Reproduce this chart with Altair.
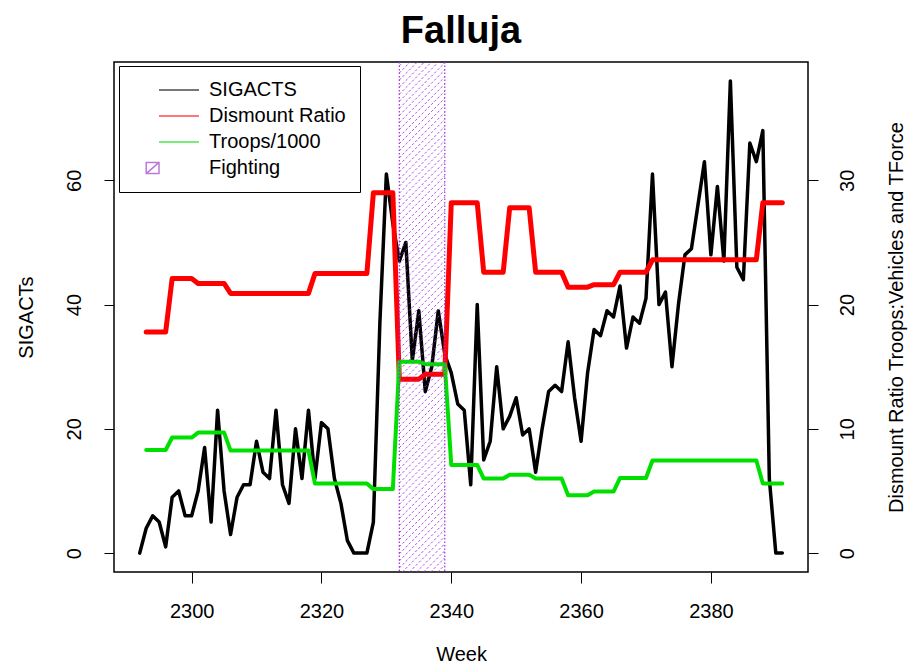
import altair as alt
import numpy as np
import pandas as pd

# ---------------- data ----------------
chart_title = "Falluja"
weeks_sig = list(range(2292, 2392))          # 100 weeks
sigacts = [0, 4, 6, 5, 1, 9, 10, 6, 6, 10,
           17, 5, 23, 10, 3, 9, 11, 11, 18, 13,
           12, 23, 11, 8, 20, 12, 23, 12, 21, 20,
           12, 8, 2, 0, 0, 0, 5, 37, 61, 53,
           47, 50, 31, 39, 26, 30, 39, 32, 29, 24,
           23, 11, 40, 15, 18, 30, 20, 22, 25, 19,
           20, 13, 20, 26, 27, 26, 34, 25, 18, 29,
           36, 35, 39, 38, 43, 33, 38, 37, 41, 61,
           40, 42, 30, 40, 48, 49, 56, 63, 48, 59,
           47, 76, 46, 44, 66, 63, 68, 12, 0, 0]

weeks_ratio = list(range(2293, 2392))        # 99 weeks
dismount = [17.8, 17.8, 17.8, 17.8,
            22.1, 22.1, 22.1, 22.1,
            21.7, 21.7, 21.7, 21.7, 21.7,
            20.9, 20.9, 20.9, 20.9, 20.9, 20.9, 20.9, 20.9, 20.9, 20.9, 20.9, 20.9, 20.9,
            22.5, 22.5, 22.5, 22.5, 22.5, 22.5, 22.5, 22.5, 22.5,
            29.0, 29.0, 29.0, 29.0,
            14.0, 14.0, 14.0, 14.0,
            14.4, 14.4, 14.4, 14.4,
            28.2, 28.2, 28.2, 28.2, 28.2,
            22.6, 22.6, 22.6, 22.6,
            27.8, 27.8, 27.8, 27.8,
            22.6, 22.6, 22.6, 22.6, 22.6,
            21.4, 21.4, 21.4, 21.4,
            21.6, 21.6, 21.6, 21.6,
            22.6, 22.6, 22.6, 22.6, 22.6,
            23.6, 23.6, 23.6, 23.6, 23.6, 23.6, 23.6, 23.6, 23.6, 23.6, 23.6, 23.6, 23.6, 23.6, 23.6, 23.6, 23.6,
            28.2, 28.2, 28.2, 28.2]
troops = [8.3, 8.3, 8.3, 8.3,
          9.3, 9.3, 9.3, 9.3,
          9.7, 9.7, 9.7, 9.7, 9.7,
          8.25, 8.25, 8.25, 8.25, 8.25, 8.25, 8.25, 8.25, 8.25, 8.25, 8.25, 8.25, 8.25,
          5.6, 5.6, 5.6, 5.6, 5.6, 5.6, 5.6, 5.6, 5.6,
          5.15, 5.15, 5.15, 5.15,
          15.4, 15.4, 15.4, 15.4,
          15.2, 15.2, 15.2, 15.2,
          7.1, 7.1, 7.1, 7.1, 7.1,
          6.0, 6.0, 6.0, 6.0,
          6.3, 6.3, 6.3, 6.3,
          6.0, 6.0, 6.0, 6.0, 6.0,
          4.65, 4.65, 4.65, 4.65,
          4.95, 4.95, 4.95, 4.95,
          6.05, 6.05, 6.05, 6.05, 6.05,
          7.45, 7.45, 7.45, 7.45, 7.45, 7.45, 7.45, 7.45, 7.45, 7.45, 7.45, 7.45, 7.45, 7.45, 7.45, 7.45, 7.45,
          5.6, 5.6, 5.6, 5.6]

fight_start, fight_end = 2332, 2339

legend_labels = ["SIGACTS", "Dismount Ratio", "Troops/1000", "Fighting"]
x_ticks = [2300, 2320, 2340, 2360, 2380]
left_ticks = [0, 20, 40, 60]
right_ticks = [0, 10, 20, 30]

# ---------------- layout / style ----------------
W, H = 694, 510
X_DOMAIN = [2288.04, 2394.96]
YL = [-3.04, 79.04]
YR = [-1.52, 39.52]
FONT = "Liberation Sans"
PURPLE = "#a030e0"
legend_colors = ["black", "#ff0000", "#00e000", "#a040d0"]
legend_shapes = ["M-2.5,0L2.5,0", "M-2.5,0L2.5,0", "M-2.5,0L2.5,0",
                 "M-4.1,-0.7L-2.5,-0.7L-2.5,0.7L-4.1,0.7Z M-4.1,0.7L-2.5,-0.7"]

df_sig = pd.DataFrame({"week": weeks_sig, "sigacts": sigacts})
df_ratio = pd.DataFrame({"week": weeks_ratio, "dismount": dismount, "troops": troops})
df_fight = pd.DataFrame({"week": [fight_start, fight_end]})

# hatch pattern for the "Fighting" band (decoration derived from the band limits),
# each diagonal segment clipped to the plotting region
px_w = W / (X_DOMAIN[1] - X_DOMAIN[0])
px_h = H / (YL[1] - YL[0])
span = fight_end - fight_start
rise = span * px_w / px_h
step = 5 * 1.4142 / px_h
cs = np.arange(YL[0] - rise, YL[1] + step, step)
t0 = np.clip((YL[0] - cs) / rise, 0, 1)
t1 = np.clip((YL[1] - cs) / rise, 0, 1)
keep = t1 > t0
df_hatch = pd.DataFrame({
    "hx": fight_start + t0[keep] * span,
    "hx2": fight_start + t1[keep] * span,
    "hy": cs[keep] + t0[keep] * rise,
    "hy2": cs[keep] + t1[keep] * rise,
})


def xenc(field):
    return alt.X(f"{field}:Q",
                 scale=alt.Scale(domain=X_DOMAIN, nice=False, zero=False),
                 axis=alt.Axis(values=x_ticks, format="d", title="Week",
                               tickSize=11, labelPadding=18, titlePadding=23))


yl_scale = alt.Scale(domain=YL, nice=False, zero=False)
yr_scale = alt.Scale(domain=YR, nice=False, zero=False)

black = alt.Chart(df_sig).mark_line(color="black", strokeWidth=3.5,
                                    strokeJoin="round", strokeCap="round").encode(
    x=xenc("week"),
    y=alt.Y("sigacts:Q", scale=yl_scale,
            axis=alt.Axis(orient="left", values=left_ticks, title="SIGACTs",
                          labelAngle=270, labelAlign="center", labelBaseline="bottom",
                          tickSize=10, labelPadding=20, titlePadding=28)),
)

red = alt.Chart(df_ratio).mark_line(color="#ff0000", strokeWidth=5,
                                    strokeJoin="round", strokeCap="round").encode(
    x=xenc("week"),
    y=alt.Y("dismount:Q", scale=yr_scale,
            axis=alt.Axis(orient="right", values=right_ticks,
                          title="Dismount Ratio Troops:Vehicles and TForce",
                          labelAngle=270, labelAlign="center", labelBaseline="top",
                          titleAngle=270, titleBaseline="top",
                          tickSize=10, labelPadding=19, titlePadding=29)),
)

green = alt.Chart(df_ratio).mark_line(color="#00e000", strokeWidth=4,
                                      strokeJoin="round", strokeCap="round").encode(
    x=xenc("week"),
    y=alt.Y("troops:Q", scale=yr_scale, axis=None),
)

hatch = alt.Chart(df_hatch).mark_rule(clip=True, color=PURPLE, strokeWidth=1,
                                      strokeDash=[2.5, 2], opacity=0.85).encode(
    x=xenc("hx"), x2="hx2",
    y=alt.Y("hy:Q", scale=yl_scale, axis=None), y2="hy2",
)

borders = alt.Chart(df_fight).mark_rule(color=PURPLE, strokeWidth=1.2,
                                        strokeDash=[1.5, 2]).encode(
    x=xenc("week"),
)

legend_def = alt.Legend(title=None, orient="none", legendX=5, legendY=4,
                        padding=14, fillColor="white", strokeColor="black",
                        labelFont=FONT, labelFontSize=20, labelColor="black",
                        symbolSize=256, symbolStrokeWidth=1.5, rowPadding=6,
                        labelOffset=20, symbolOffset=36)
leg = alt.Chart(pd.DataFrame({"series": legend_labels})).transform_filter("false").mark_point(
    filled=False, size=256, strokeWidth=1.5).encode(
    color=alt.Color("series:N", scale=alt.Scale(domain=legend_labels, range=legend_colors),
                    legend=legend_def),
    shape=alt.Shape("series:N", scale=alt.Scale(domain=legend_labels, range=legend_shapes),
                    legend=legend_def),
)

title = alt.Chart(pd.DataFrame({"t": [chart_title]})).mark_text(
    font=FONT, fontSize=38, fontWeight="bold", color="black",
    align="center", baseline="alphabetic").encode(
    text="t:N", x=alt.value(W / 2), y=alt.value(-19),
)

chart = alt.layer(black, red, green, hatch, borders, leg, title).resolve_scale(
    y="independent"
).properties(
    width=W, height=H,
    autosize=alt.AutoSizeParams(type="none"),
    padding={"left": 106, "top": 54, "right": 100, "bottom": 92},
).configure_view(
    stroke="black", strokeWidth=1.5
).configure_axis(
    labelFont=FONT, titleFont=FONT, labelFontSize=20, titleFontSize=20,
    titleFontWeight="normal", labelColor="black", titleColor="black",
    tickColor="black", tickWidth=1, domain=False, grid=False
)

chart.save("out.html", embed_options={"renderer": "svg", "actions": False})
